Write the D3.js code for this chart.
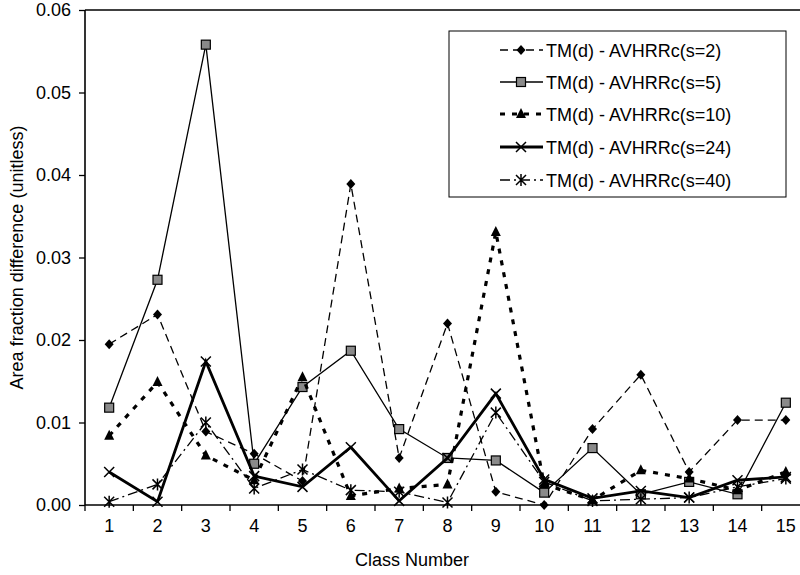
<!DOCTYPE html>
<html><head><meta charset="utf-8">
<script src="https://cdn.jsdelivr.net/npm/d3@7"></script>
<style>
body{margin:0;background:#fff;}
svg text{font-family:"Liberation Sans",Arial,sans-serif;fill:#000;}
</style></head>
<body><svg id="chart" width="800" height="575"></svg>
<script>
const classes = [1,2,3,4,5,6,7,8,9,10,11,12,13,14,15];
const seriesNames = ["TM(d) - AVHRRc(s=2)","TM(d) - AVHRRc(s=5)","TM(d) - AVHRRc(s=10)","TM(d) - AVHRRc(s=24)","TM(d) - AVHRRc(s=40)"];
const s2  = [0.0195,0.0231,0.0089,0.0062,0.0029,0.0389,0.0057,0.0220,0.0016,0.0000,0.0092,0.0158,0.0040,0.0103,0.0103];
const s5  = [0.0118,0.0273,0.0558,0.0050,0.0143,0.0187,0.0092,0.0057,0.0054,0.0015,0.0069,0.0013,0.0028,0.0013,0.0124];
const s10 = [0.0084,0.0149,0.0060,0.0030,0.0155,0.0011,0.0020,0.0025,0.0331,0.0025,0.0006,0.0042,0.0032,0.0018,0.0040];
const s24 = [0.0040,0.0004,0.0174,0.0035,0.0022,0.0070,0.0005,0.0057,0.0135,0.0031,0.0008,0.0017,0.0009,0.0030,0.0034];
const s40 = [0.0004,0.0025,0.0100,0.0020,0.0043,0.0018,0.0016,0.0003,0.0112,0.0028,0.0005,0.0007,0.0009,0.0022,0.0032];
const yTicks = [0,0.01,0.02,0.03,0.04,0.05,0.06];

const svg = d3.select("#chart");
const L=85, T=10, B=505, R=810;
const x = d3.scaleBand().domain(classes).range([L,R]);
const y = d3.scaleLinear().domain([0,0.06]).range([B,T]);

// frame
svg.append("line").attr("x1",L).attr("x2",800).attr("y1",T).attr("y2",T).attr("stroke","#000").attr("stroke-width",1.6);

// y axis
const ya = svg.append("g").attr("transform",`translate(${L},0)`)
  .call(d3.axisLeft(y).tickValues(yTicks).tickFormat(d3.format(".2f")).tickSize(6).tickPadding(8));
ya.select(".domain").attr("stroke-width",1.6).attr("d",`M-0,${T}V${B}`);
ya.selectAll(".tick line").attr("stroke-width",1.3);
ya.selectAll("text").style("font-size","18px").attr("fill","#000");

// x axis
const xa = svg.append("g").attr("transform",`translate(0,${B})`)
  .call(d3.axisBottom(x).tickSize(0).tickPadding(14));
xa.select(".domain").attr("stroke-width",1.6).attr("d",`M${L},0H800`);
xa.selectAll("text").style("font-size","18px").attr("fill","#000");
const bounds = classes.map(c=>x(c)).concat([x(classes[classes.length-1])+x.bandwidth()]);
xa.selectAll(".bt").data(bounds).enter().append("line")
  .attr("x1",d=>d).attr("x2",d=>d).attr("y1",0).attr("y2",6).attr("stroke","#000").attr("stroke-width",1.3);

svg.append("text").attr("x",412).attr("y",566).attr("text-anchor","middle").style("font-size","18px").text("Class Number");
svg.append("text").attr("transform",`translate(23,${(T+B)/2}) rotate(-90)`).attr("text-anchor","middle").style("font-size","18px").text("Area fraction difference (unitless)");

const styles = [
  {data:s2, w:1.3, dash:"8,5", marker:"diamond"},
  {data:s5, w:1.3, dash:null, marker:"square"},
  {data:s10,w:3.2, dash:"5,7", marker:"triangle"},
  {data:s24,w:2.8, dash:null, marker:"x"},
  {data:s40,w:1.3, dash:"10,4,2,4", marker:"asterisk"}
];

function drawMarker(g, type, cx, cy){
  if(type==="diamond"){
    g.append("path").attr("d",`M${cx},${cy-5}L${cx+4.5},${cy}L${cx},${cy+5}L${cx-4.5},${cy}Z`).attr("fill","#000");
  } else if(type==="square"){
    g.append("rect").attr("x",cx-4.5).attr("y",cy-4.5).attr("width",9).attr("height",9).attr("fill","#8a8a8a").attr("stroke","#000").attr("stroke-width",1.2);
  } else if(type==="triangle"){
    g.append("path").attr("d",`M${cx},${cy-6}L${cx+5},${cy+4}L${cx-5},${cy+4}Z`).attr("fill","#000");
  } else if(type==="x"){
    g.append("path").attr("d",`M${cx-5},${cy-5}L${cx+5},${cy+5}M${cx-5},${cy+5}L${cx+5},${cy-5}`).attr("stroke","#000").attr("stroke-width",1.5);
  } else if(type==="asterisk"){
    g.append("path").attr("d",`M${cx-5},${cy-5}L${cx+5},${cy+5}M${cx-5},${cy+5}L${cx+5},${cy-5}M${cx},${cy-6}L${cx},${cy+6}`).attr("stroke","#000").attr("stroke-width",1.5);
  }
}

const cx = c => x(c)+x.bandwidth()/2;
styles.forEach(s=>{
  const line = d3.line().x((d,i)=>cx(classes[i])).y(d=>y(d));
  const p = svg.append("path").attr("d",line(s.data)).attr("fill","none").attr("stroke","#000").attr("stroke-width",s.w).attr("stroke-linejoin","miter");
  if(s.dash) p.attr("stroke-dasharray",s.dash);
  const g = svg.append("g");
  s.data.forEach((v,i)=>drawMarker(g,s.marker,cx(classes[i]),y(v)));
});

// legend
const lg = svg.append("g");
lg.append("rect").attr("x",449).attr("y",31).attr("width",337).attr("height",166).attr("fill","#fff").attr("stroke","#000").attr("stroke-width",1);
const rowY = [50,82,114,147,180];
styles.forEach((s,i)=>{
  const ly = rowY[i];
  const p = lg.append("line").attr("x1",500).attr("x2",543).attr("y1",ly).attr("y2",ly).attr("stroke","#000").attr("stroke-width",s.w);
  if(s.dash) p.attr("stroke-dasharray",s.dash);
  drawMarker(lg,s.marker,521,ly);
  lg.append("text").attr("x",546).attr("y",ly+6.5).style("font-size","18px").text(seriesNames[i]);
});
</script></body></html>
